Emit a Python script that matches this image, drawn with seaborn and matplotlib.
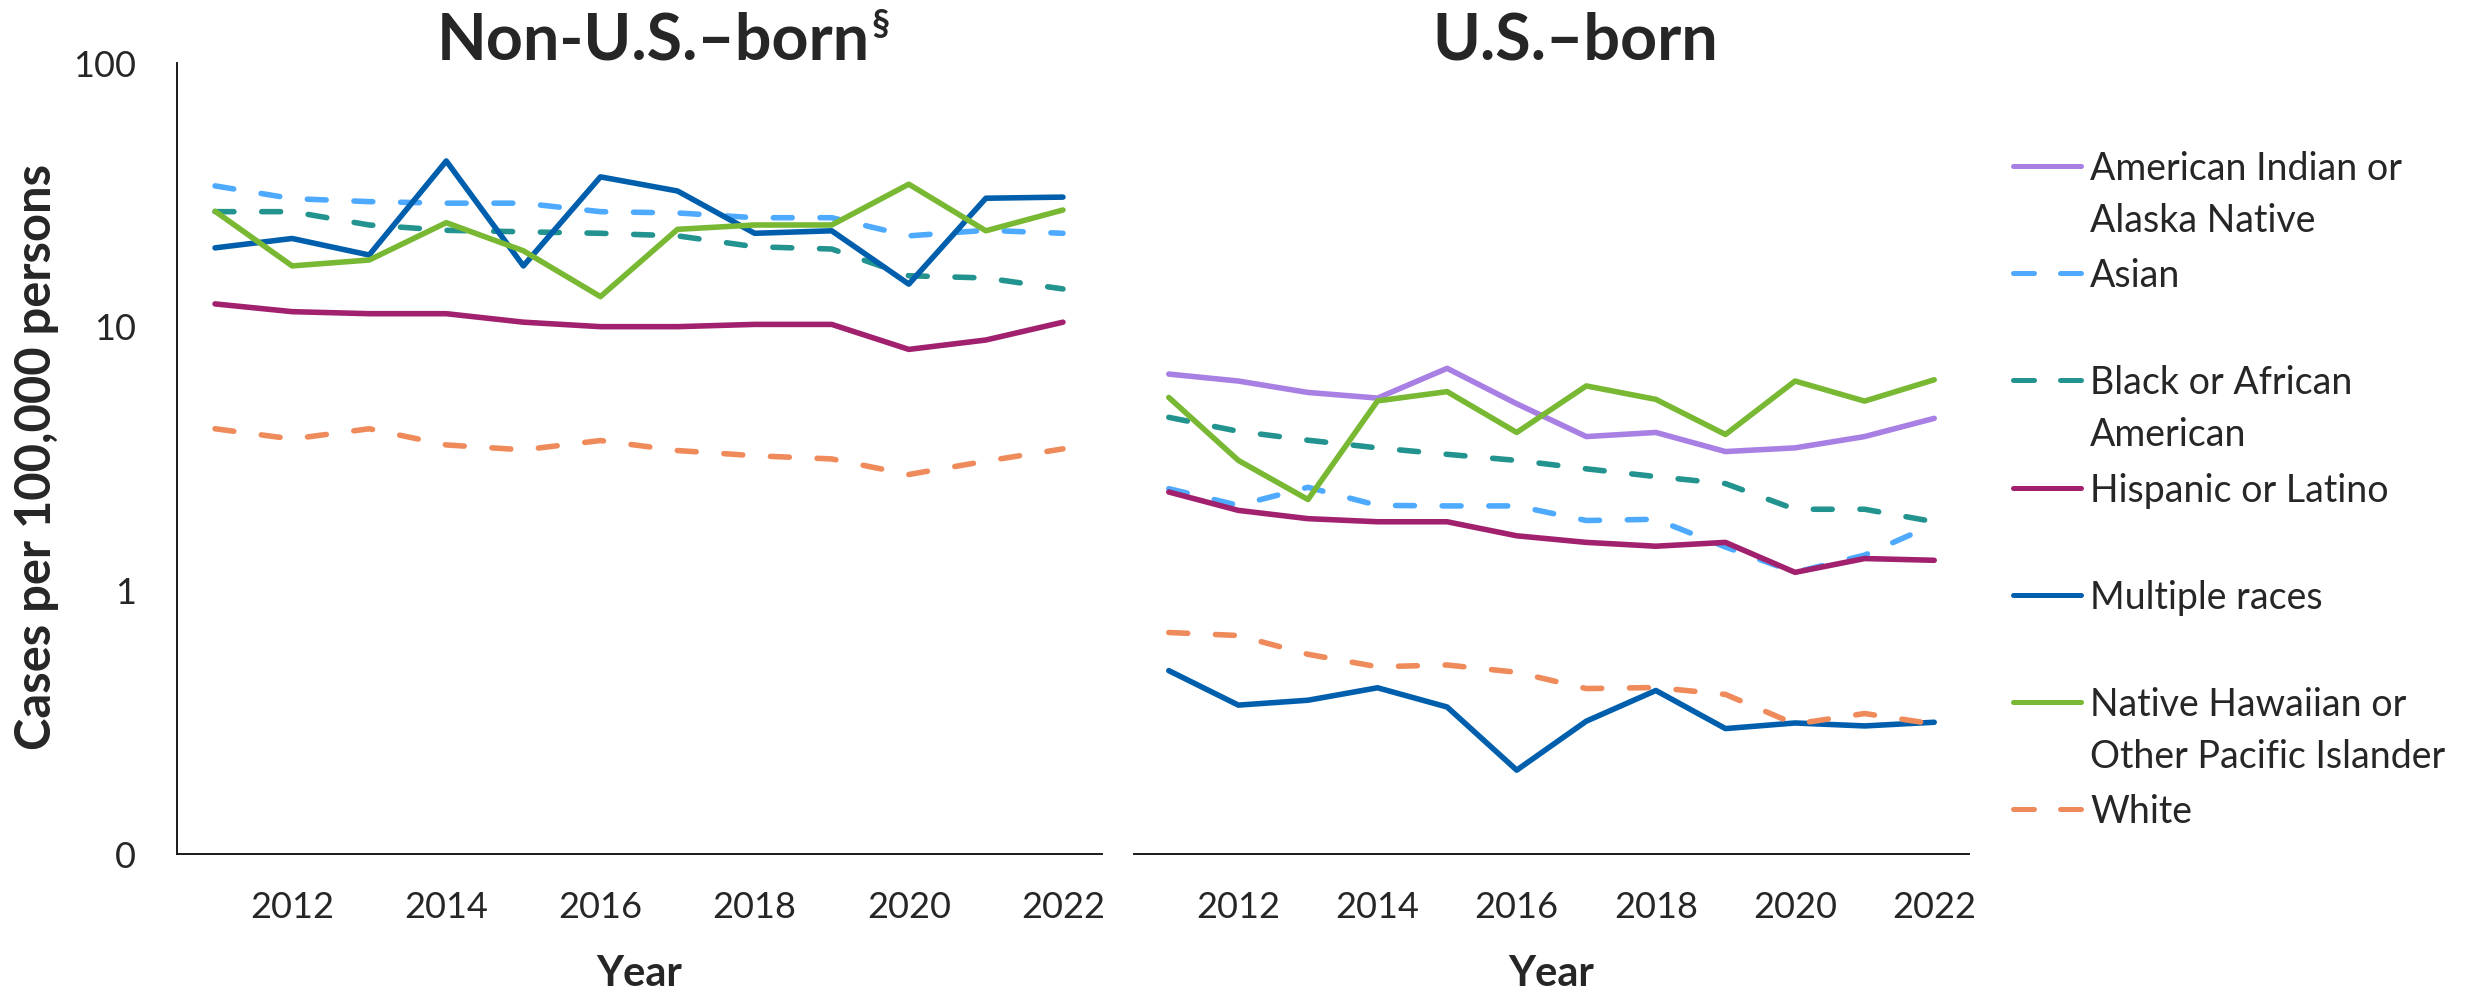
#!/usr/bin/env python3
# Tuberculosis incidence by race/ethnicity and birth origin, 2011-2022 (log scale)

import numpy as np
import pandas as pd
import seaborn as sns
import matplotlib.pyplot as plt
from matplotlib.lines import Line2D
from matplotlib.ticker import NullLocator

years = list(range(2011, 2023))
groups = ['American Indian or Alaska Native', 'Asian', 'Black or African American',
          'Hispanic or Latino', 'Multiple races',
          'Native Hawaiian or Other Pacific Islander', 'White']
legend_labels = ['American Indian or\nAlaska Native', 'Asian', 'Black or African\nAmerican',
                 'Hispanic or Latino', 'Multiple races',
                 'Native Hawaiian or\nOther Pacific Islander', 'White']
colors = ['#A880E3', '#4DAAFF', '#22938F', '#A1216F', '#005FAC', '#78B833', '#EF8A5B']
dashed = [False, True, True, False, False, False, True]

# Non-U.S.-born rates (per 100,000)
nonus_asian = [34.2, 30.6, 29.8, 29.4, 29.4, 27.3, 27.0, 25.9, 25.9, 22.1, 23.2, 22.6]
nonus_black = [27.3, 27.3, 24.3, 23.2, 22.9, 22.6, 22.1, 20.1, 19.7, 15.6, 15.3, 13.9]
nonus_hisp = [12.2, 11.4, 11.2, 11.2, 10.4, 10.0, 10.0, 10.2, 10.2, 8.2, 8.9, 10.4]
nonus_multi = [19.9, 21.6, 18.7, 42.5, 17.0, 37.0, 32.7, 22.6, 23.1, 14.5, 30.7, 31.0]
nonus_nhopi = [27.4, 17.0, 17.9, 24.8, 19.4, 13.0, 23.4, 24.3, 24.3, 34.7, 23.1, 27.7]
nonus_white = [4.10, 3.75, 4.10, 3.56, 3.41, 3.70, 3.39, 3.24, 3.15, 2.75, 3.09, 3.44]

# U.S.-born rates (per 100,000)
us_aian = [6.61, 6.22, 5.63, 5.36, 6.95, 5.10, 3.83, 3.97, 3.36, 3.47, 3.83, 4.49]
us_asian = [2.43, 2.10, 2.46, 2.10, 2.09, 2.09, 1.84, 1.86, 1.46, 1.17, 1.36, 1.78]
us_black = [4.53, 4.01, 3.71, 3.47, 3.28, 3.11, 2.89, 2.70, 2.54, 2.03, 2.03, 1.82]
us_hisp = [2.36, 2.01, 1.87, 1.82, 1.82, 1.61, 1.52, 1.47, 1.52, 1.17, 1.32, 1.30]
us_multi = [0.496, 0.367, 0.383, 0.427, 0.361, 0.208, 0.319, 0.417, 0.299, 0.314, 0.306, 0.316]
us_nhopi = [5.39, 3.11, 2.21, 5.23, 5.67, 3.97, 5.96, 5.30, 3.90, 6.22, 5.22, 6.29]
us_white = [0.692, 0.674, 0.572, 0.513, 0.521, 0.489, 0.424, 0.428, 0.403, 0.311, 0.341, 0.311]

nonus = {groups[1]: nonus_asian, groups[2]: nonus_black, groups[3]: nonus_hisp,
         groups[4]: nonus_multi, groups[5]: nonus_nhopi, groups[6]: nonus_white}
us = {groups[0]: us_aian, groups[1]: us_asian, groups[2]: us_black, groups[3]: us_hisp,
      groups[4]: us_multi, groups[5]: us_nhopi, groups[6]: us_white}

rows = []
for panel, d in [('nonus', nonus), ('us', us)]:
    for g, vals in d.items():
        for y, v in zip(years, vals):
            rows.append({'panel': panel, 'group': g, 'year': y, 'rate': v})
df = pd.DataFrame(rows)

DASH = (3.4, 5.0)
palette = dict(zip(groups, colors))
dash_map = {g: (DASH if d else '') for g, d in zip(groups, dashed)}

sns.set_style('white')
plt.rcParams['font.family'] = ['Lato', 'DejaVu Sans']
TXT = '#262626'
AXC = '#1a1a1a'

W, H = 2474, 998
fig = plt.figure(figsize=(W / 100, H / 100), dpi=100)
ax1 = fig.add_axes([176.5 / W, 1 - 854 / H, 925 / W, 791 / H])
ax2 = fig.add_axes([1134 / W, 1 - 854 / H, 835 / W, 791 / H])

for ax, panel in [(ax1, 'nonus'), (ax2, 'us')]:
    sub = df[df['panel'] == panel]
    order = [g for g in groups if g in sub['group'].unique()]
    sns.lineplot(data=sub, x='year', y='rate', hue='group', style='group',
                 hue_order=order, style_order=order, palette=palette, dashes=dash_map,
                 linewidth=4, legend=False, ax=ax)
    for ln in ax.get_lines():
        ln.set_solid_capstyle('round')
        ln.set_dash_capstyle('round')
        ln.set_solid_joinstyle('round')
    ax.set_yscale('log')
    ax.set_ylim(0.1, 100)
    ax.set_xlim(2010.5, 2022.5)
    ax.set_ylabel('')
    ax.set_xticks(list(range(2012, 2023, 2)))
    ax.set_xticklabels([str(y) for y in range(2012, 2023, 2)])
    ax.set_xticks(np.arange(2010.5, 2023, 1.0), minor=True)
    ax.tick_params(axis='x', which='major', length=0, pad=27, labelsize=26, labelcolor=TXT)
    ax.tick_params(axis='x', which='minor', length=9.4, width=1.4, color=AXC, direction='out')
    for s in ['top', 'right']:
        ax.spines[s].set_visible(False)
    ax.spines['bottom'].set_color(AXC)
    ax.spines['bottom'].set_linewidth(1.4)
    ax.set_xlabel('Year', fontsize=30, fontweight='bold', color=TXT)
    ax.xaxis.set_label_coords(0.5, -0.128)

ax1.set_yticks([0.1, 1, 10, 100])
ax1.set_yticklabels(['0', '1', '10', '100'])
ax1.yaxis.set_minor_locator(NullLocator())
ax1.tick_params(axis='y', which='major', length=10, width=1.4, color=AXC, direction='out',
                pad=19, labelsize=26, labelcolor=TXT)
ax1.spines['left'].set_color(AXC)
ax1.spines['left'].set_linewidth(1.4)

ax2.spines['left'].set_visible(False)
ax2.yaxis.set_minor_locator(NullLocator())
ax2.tick_params(axis='y', which='both', left=False, labelleft=False)

# titles
fig.canvas.draw()
rend = fig.canvas.get_renderer()
for txt, cx, sup in [('Non-U.S.–born', 653, True), ('U.S.–born', 1575, False)]:
    t = fig.text(cx / W, 1 - 59 / H, txt, ha='center', va='baseline', fontsize=46.5,
                 fontweight='bold', color=TXT)
    if sup:
        bb = t.get_window_extent(renderer=rend)
        fig.text(bb.x1 / W + 2 / W, 1 - 8 / H, '§', ha='left', va='top', fontsize=26,
                 fontweight='bold', color=TXT)

fig.text(37 / W, 1 - 457 / H, 'Cases per 100,000 persons', rotation=90, ha='center',
         va='center', fontsize=35.2, fontweight='bold', color=TXT)

# legend
for i, (lab, col, dsh) in enumerate(zip(legend_labels, colors, dashed)):
    yy = 1 - (166 + 107.2 * i) / H
    ln = Line2D([2012.5 / W, 2080.5 / W], [yy, yy], transform=fig.transFigure,
                color=col, linewidth=3.6, solid_capstyle='round', dash_capstyle='round')
    if dsh:
        ln.set_dashes((4.2, 5.2))
    fig.add_artist(ln)
    fig.text(2090 / W, yy + 15 / H, lab, ha='left', va='top', fontsize=27,
             color=TXT, linespacing=1.55)

fig.savefig('out.png', dpi=100, facecolor='white')
